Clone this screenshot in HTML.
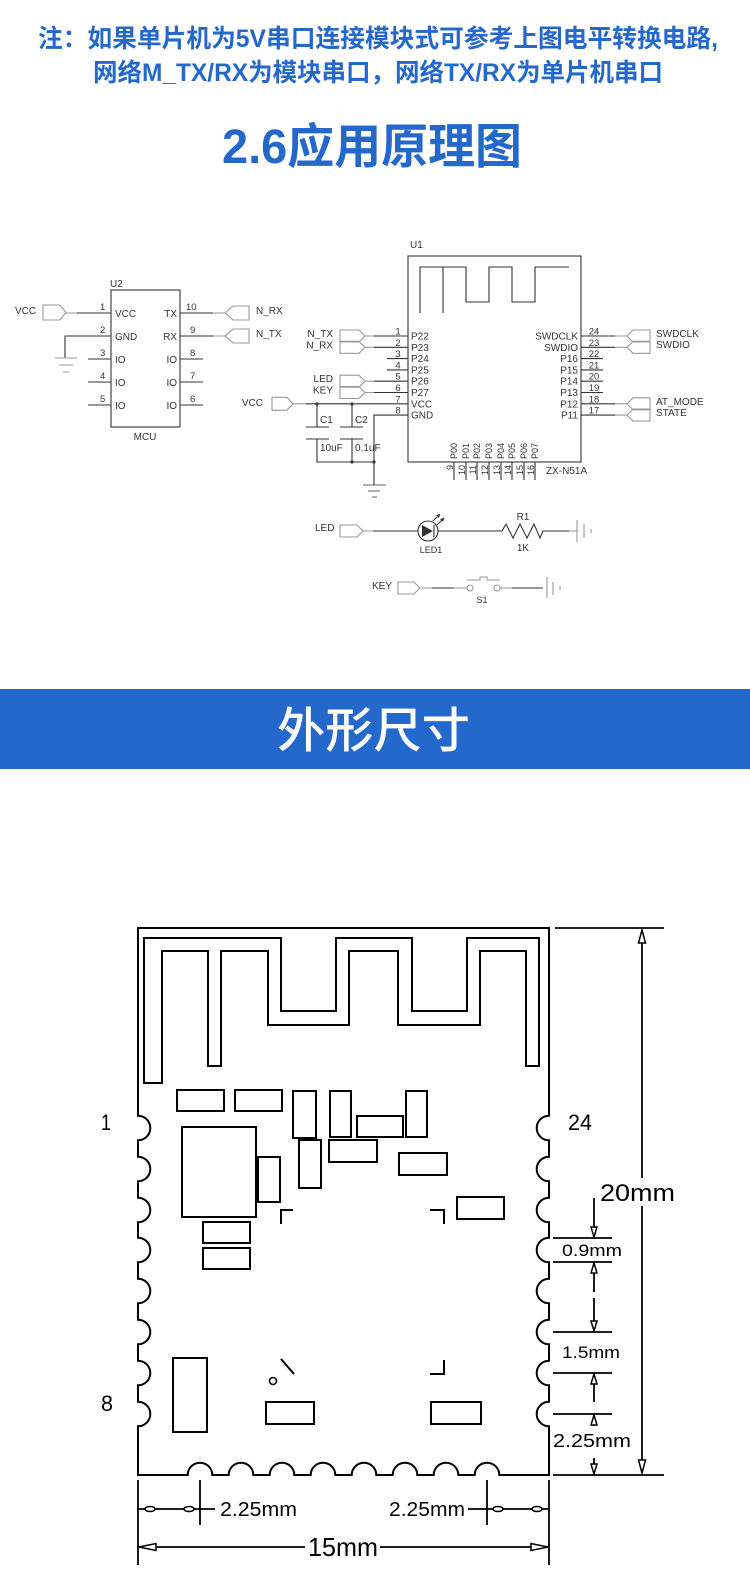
<!DOCTYPE html>
<html><head><meta charset="utf-8">
<style>
html,body{margin:0;padding:0;background:#fff;width:750px;height:1578px;overflow:hidden}
svg{display:block}
</style></head>
<body>
<svg width="750" height="1578" viewBox="0 0 750 1578" xmlns="http://www.w3.org/2000/svg" font-family="'Liberation Sans','Noto Sans CJK SC',sans-serif">
<rect width="750" height="1578" fill="#fff"/>

<!-- Top note -->
<text x="38" y="47" font-size="25" font-weight="bold" fill="#2468cc" textLength="680" lengthAdjust="spacingAndGlyphs">注：如果单片机为5V串口连接模块式可参考上图电平转换电路,</text>
<text x="93" y="81" font-size="25" font-weight="bold" fill="#2468cc" textLength="570" lengthAdjust="spacingAndGlyphs">网络M_TX/RX为模块串口，网络TX/RX为单片机串口</text>
<text x="222" y="163" font-size="48" font-weight="bold" fill="#2468cc" textLength="300" lengthAdjust="spacingAndGlyphs">2.6应用原理图</text>

<!-- ============ Schematic ============ -->
<g fill="none" stroke="#333" stroke-width="1.1">
  <!-- U2 -->
  <rect x="111" y="290" width="69" height="137"/>
  <path d="M77,313H111 M111,336H65V358 M88,359H111 M88,382H111 M88,405H111 M180,313H213 M180,336H213 M180,359H203 M180,382H203 M180,405H203"/>
  <!-- U1 -->
  <rect x="408" y="256" width="173" height="206"/>
  <path d="M420,313V267H466V302H489V267H512V302H535V267H569 M443,267V313"/>
  <path d="M374,336H408 M374,347.3H408 M387,358.6H408 M387,369.9H408 M374,381.2H408 M374,392.5H408 M306,403.8H408 M408,415.1H374V485"/>
  <path d="M581,336H615 M581,347.3H615 M581,358.6H603 M581,369.9H603 M581,381.2H603 M581,392.5H603 M581,403.8H615 M581,415.1H615"/>
  <!-- bottom pins -->
  <path d="M454,462V480 M466,462V480 M477,462V480 M489,462V480 M501,462V480 M512,462V480 M524,462V480 M535,462V480"/>
  <!-- caps -->
  <path d="M317,404V427 M306,427H329 M306,439H329 M317,439V462H374 M352,404V427 M340,427H363 M340,439H363 M352,439V462"/>
  <path d="M363,485H386 M368,491H380 M372,497H377" stroke="#666"/>
  <!-- LED row -->
  <path d="M373,531H418 M438,531H502 M502,531L506,524L513,538L520,524L527,538L534,524L540,538L543,531H569"/>
  <circle cx="428" cy="531" r="10"/>
  <path d="M434,525V537"/>
  <path d="M433,521L440,514 M437,525L444,518" stroke-width="1"/>
  <!-- KEY row -->
  <path d="M432,588H454 M512,588H543"/>
</g>
<polygon points="422,525 422,537 433,531" fill="#333"/>
<polygon points="440,514 436,515 439,518" fill="#333"/>
<polygon points="444,518 440,519 443,522" fill="#333"/>
<g fill="#333"><circle cx="317" cy="404" r="1.6"/><circle cx="352" cy="404" r="1.6"/><circle cx="352" cy="462" r="1.6"/><circle cx="374" cy="462" r="1.6"/></g>

<!-- grey connectors -->
<g fill="none" stroke="#999" stroke-width="1.1">
  <path d="M66,313H77 M213,313H225 M213,336H225 M55,358H77 M59,365H73 M63,372H69"/>
  <polygon points="43,305 60,305 66,312.5 60,320 43,320"/>
  <polygon points="225,313 233,306 249,306 249,320 233,320"/>
  <polygon points="225,336 233,329 249,329 249,343 233,343"/>
  <path d="M365,336H374 M365,347.3H374 M365,381.2H374 M365,392.5H374 M293,403.8H306"/>
  <polygon points="340,330 359,330 365,336 359,342 340,342"/>
  <polygon points="340,341.3 359,341.3 365,347.3 359,353.3 340,353.3"/>
  <polygon points="340,375.2 359,375.2 365,381.2 359,387.2 340,387.2"/>
  <polygon points="340,386.5 359,386.5 365,392.5 359,398.5 340,398.5"/>
  <polygon points="272,397.3 287,397.3 293,403.8 287,410.3 272,410.3"/>
  <path d="M615,336H627 M615,347.3H627 M615,403.8H627 M615,415.1H627"/>
  <polygon points="627,336 633,330 650,330 650,342 633,342"/>
  <polygon points="627,347.3 633,341.3 650,341.3 650,353.3 633,353.3"/>
  <polygon points="627,403.8 633,397.8 650,397.8 650,409.8 633,409.8"/>
  <polygon points="627,415.1 633,409.1 650,409.1 650,421.1 633,421.1"/>
  <polygon points="340,525 357,525 363,531 357,537 340,537"/>
  <path d="M363,531H373 M569,531H577 M577,520V542 M584,524V538 M591,529V533"/>
  <polygon points="398,582 414,582 420,588 414,594 398,594"/>
  <path d="M420,588H432 M454,588H467 M500,588H512 M467,580H480V577H487V580H500"/>
  <circle cx="470" cy="588" r="3"/><circle cx="497" cy="588" r="3"/>
  <path d="M547,577V598 M553,582V595 M560,586V590"/>
</g>

<!-- schematic texts -->
<g font-size="10" fill="#333">
  <text x="110" y="287">U2</text>
  <text x="15" y="314">VCC</text>
  <text x="100" y="310" font-size="9.5">1</text><text x="100" y="333" font-size="9.5">2</text><text x="100" y="356" font-size="9.5">3</text><text x="100" y="379" font-size="9.5">4</text><text x="100" y="402" font-size="9.5">5</text>
  <text x="186" y="310" font-size="9.5">10</text><text x="190" y="333" font-size="9.5">9</text><text x="190" y="356" font-size="9.5">8</text><text x="190" y="379" font-size="9.5">7</text><text x="190" y="402" font-size="9.5">6</text>
  <text x="115" y="317">VCC</text><text x="115" y="340">GND</text><text x="115" y="363">IO</text><text x="115" y="386">IO</text><text x="115" y="409">IO</text>
  <g text-anchor="end"><text x="177" y="317">TX</text><text x="177" y="340">RX</text><text x="177" y="363">IO</text><text x="177" y="386">IO</text><text x="177" y="409">IO</text></g>
  <text x="256" y="314">N_RX</text><text x="256" y="337">N_TX</text>
  <text x="145" y="440" text-anchor="middle">MCU</text>

  <text x="410" y="248">U1</text>
  <g text-anchor="end">
    <text x="333" y="337">N_TX</text><text x="333" y="348.5">N_RX</text>
    <text x="333" y="382">LED</text><text x="333" y="393.5">KEY</text>
    <text x="263" y="406">VCC</text>
  </g>
  <g text-anchor="middle" font-size="9.5">
    <text x="398" y="334.5">1</text><text x="398" y="345.8">2</text><text x="398" y="357.1">3</text><text x="398" y="368.4">4</text><text x="398" y="379.7">5</text><text x="398" y="391">6</text><text x="398" y="402.3">7</text><text x="398" y="413.6">8</text>
    <text x="594" y="334.5">24</text><text x="594" y="345.8">23</text><text x="594" y="357.1">22</text><text x="594" y="368.4">21</text><text x="594" y="379.7">20</text><text x="594" y="391">19</text><text x="594" y="402.3">18</text><text x="594" y="413.6">17</text>
  </g>
  <text x="411" y="339.5">P22</text><text x="411" y="350.8">P23</text><text x="411" y="362.1">P24</text><text x="411" y="373.4">P25</text><text x="411" y="384.7">P26</text><text x="411" y="396">P27</text><text x="411" y="407.3">VCC</text><text x="411" y="418.6">GND</text>
  <g text-anchor="end">
    <text x="578" y="339.5">SWDCLK</text><text x="578" y="350.8">SWDIO</text><text x="578" y="362.1">P16</text><text x="578" y="373.4">P15</text><text x="578" y="384.7">P14</text><text x="578" y="396">P13</text><text x="578" y="407.3">P12</text><text x="578" y="418.6">P11</text>
  </g>
  <text x="656" y="337">SWDCLK</text><text x="656" y="348">SWDIO</text><text x="656" y="405">AT_MODE</text><text x="656" y="416">STATE</text>
  <text x="320" y="423">C1</text><text x="355" y="423">C2</text>
  <text x="320" y="451">10uF</text><text x="355" y="451">0.1uF</text>
  <text x="546" y="474">ZX-N51A</text>
  <g font-size="9">
    <text transform="translate(457,459) rotate(-90)">P00</text>
    <text transform="translate(469,459) rotate(-90)">P01</text>
    <text transform="translate(480,459) rotate(-90)">P02</text>
    <text transform="translate(492,459) rotate(-90)">P03</text>
    <text transform="translate(504,459) rotate(-90)">P04</text>
    <text transform="translate(515,459) rotate(-90)">P05</text>
    <text transform="translate(527,459) rotate(-90)">P06</text>
    <text transform="translate(538,459) rotate(-90)">P07</text>
    <g text-anchor="end">
    <text transform="translate(453,465) rotate(-90)">9</text>
    <text transform="translate(465,465) rotate(-90)">10</text>
    <text transform="translate(476,465) rotate(-90)">11</text>
    <text transform="translate(488,465) rotate(-90)">12</text>
    <text transform="translate(500,465) rotate(-90)">13</text>
    <text transform="translate(511,465) rotate(-90)">14</text>
    <text transform="translate(523,465) rotate(-90)">15</text>
    <text transform="translate(534,465) rotate(-90)">16</text>
    </g>
  </g>
  <text x="315" y="531">LED</text>
  <text x="523" y="520" text-anchor="middle">R1</text>
  <text x="523" y="551" text-anchor="middle">1K</text>
  <text x="431" y="553" text-anchor="middle" font-size="9">LED1</text>
  <text x="372" y="589">KEY</text>
  <text x="482" y="603" text-anchor="middle" font-size="9">S1</text>
</g>

<!-- ============ Banner ============ -->
<rect x="0" y="689" width="750" height="80" fill="#2468cc"/>
<text x="277" y="747" font-size="48" font-weight="500" fill="#fff" textLength="193" lengthAdjust="spacingAndGlyphs">外形尺寸</text>

<!-- ============ Module drawing ============ -->
<g fill="none" stroke="#000" stroke-width="2" stroke-linejoin="miter">
  <path d="M138,928 H549 V1115.7 A12.3,12.3 0 0 0 549,1140.3 V1156.7 A12.3,12.3 0 0 0 549,1181.3 V1197.7 A12.3,12.3 0 0 0 549,1222.3 V1237.7 A12.3,12.3 0 0 0 549,1262.3 V1278.7 A12.3,12.3 0 0 0 549,1303.3 V1319.7 A12.3,12.3 0 0 0 549,1344.3 V1360.7 A12.3,12.3 0 0 0 549,1385.3 V1401.7 A12.3,12.3 0 0 0 549,1426.3 V1475
  H499.3 A12.3,12.3 0 0 0 474.7,1475 H458.3 A12.3,12.3 0 0 0 433.7,1475 H417.3 A12.3,12.3 0 0 0 392.7,1475 H376.3 A12.3,12.3 0 0 0 351.7,1475 H335.3 A12.3,12.3 0 0 0 310.7,1475 H294.3 A12.3,12.3 0 0 0 269.7,1475 H253.3 A12.3,12.3 0 0 0 228.7,1475 H212.3 A12.3,12.3 0 0 0 187.7,1475 H138
  V1426.3 A12.3,12.3 0 0 0 138,1401.7 V1385.3 A12.3,12.3 0 0 0 138,1360.7 V1344.3 A12.3,12.3 0 0 0 138,1319.7 V1303.3 A12.3,12.3 0 0 0 138,1278.7 V1262.3 A12.3,12.3 0 0 0 138,1237.7 V1222.3 A12.3,12.3 0 0 0 138,1197.7 V1181.3 A12.3,12.3 0 0 0 138,1156.7 V1140.3 A12.3,12.3 0 0 0 138,1115.7 Z"/>
  <!-- antenna -->
  <path d="M144,1083 V938 H281 V1011 H336 V938 H412 V1011 H467 V938 H539 V1066 H526 V951 H480 V1025 H398 V951 H349 V1025 H268 V951 H221 V1066 H208 V951 H162 V1083 Z"/>
  <!-- components -->
  <rect x="177" y="1090" width="47" height="21"/>
  <rect x="235" y="1090" width="47" height="21"/>
  <rect x="293" y="1091" width="23" height="47"/>
  <rect x="330" y="1091" width="21" height="46"/>
  <rect x="357" y="1116" width="46" height="21"/>
  <rect x="406" y="1091" width="21" height="46"/>
  <rect x="182" y="1127" width="74" height="90"/>
  <rect x="258" y="1157" width="22" height="45"/>
  <rect x="299" y="1140" width="22" height="48"/>
  <rect x="329" y="1140" width="48" height="22"/>
  <rect x="399" y="1153" width="48" height="22"/>
  <rect x="457" y="1197" width="47" height="22"/>
  <rect x="203" y="1222" width="47" height="21"/>
  <rect x="203" y="1248" width="47" height="21"/>
  <rect x="173" y="1358" width="34" height="74"/>
  <rect x="266" y="1402" width="48" height="22"/>
  <rect x="431" y="1402" width="50" height="22"/>
  <path d="M281,1224 V1210 H293 M430,1210 H444 V1224 M444,1360 V1374 H430 M281,1359 L294,1374"/>
  <circle cx="273" cy="1381" r="3.5" stroke-width="1.6"/>
</g>

<!-- dimensions -->
<g fill="none" stroke="#000" stroke-width="1.8">
  <path d="M555,928H664 M553,1475H664 M642,932V1178 M642,1206V1471"/>
  <path d="M553,1238H612 M553,1262H612 M553,1332H612 M553,1373H612 M553,1414H612"/>
  <path d="M594,1198V1232 M594,1268V1292 M594,1298V1326 M594,1379V1402 M594,1420V1426 M594,1458V1469"/>
  <path d="M138,1480V1565 M549,1480V1565 M200,1480V1525 M487,1480V1525"/>
  <path d="M139,1509H215 M468,1509H548 M139,1547H305 M380,1547H548"/>
</g>
<g fill="#fff" stroke="#000" stroke-width="1.5">
  <polygon points="642,930 638.5,943 645.5,943"/>
  <polygon points="642,1473 638.5,1460 645.5,1460"/>
  <polygon points="594,1237 591,1227 597,1227"/>
  <polygon points="594,1263 591,1273 597,1273"/>
  <polygon points="594,1331 591,1321 597,1321"/>
  <polygon points="594,1374 591,1384 597,1384"/>
  <polygon points="594,1415 591,1425 597,1425"/>
  <polygon points="594,1474 591,1464 597,1464"/>
  <ellipse cx="150" cy="1509" rx="5" ry="2.5"/>
  <ellipse cx="189" cy="1509" rx="5" ry="2.5"/>
  <ellipse cx="498" cy="1509" rx="5" ry="2.5"/>
  <ellipse cx="537" cy="1509" rx="5" ry="2.5"/>
  <polygon points="139,1547 156,1543.5 156,1550.5"/>
  <polygon points="548,1547 531,1543.5 531,1550.5"/>
</g>

<g fill="#000" font-family="'Liberation Sans','DejaVu Sans',sans-serif">
  <text x="101" y="1130" font-size="22" textLength="10" lengthAdjust="spacingAndGlyphs">1</text>
  <text x="101" y="1411" font-size="22" textLength="12" lengthAdjust="spacingAndGlyphs">8</text>
  <text x="568" y="1130" font-size="22" textLength="24" lengthAdjust="spacingAndGlyphs">24</text>
  <text x="600" y="1201" font-size="24" textLength="75" lengthAdjust="spacingAndGlyphs">20mm</text>
  <text x="562" y="1256" font-size="17" textLength="60" lengthAdjust="spacingAndGlyphs">0.9mm</text>
  <text x="562" y="1358" font-size="17" textLength="58" lengthAdjust="spacingAndGlyphs">1.5mm</text>
  <text x="553" y="1447" font-size="18" textLength="78" lengthAdjust="spacingAndGlyphs">2.25mm</text>
  <text x="220" y="1516" font-size="20" textLength="77" lengthAdjust="spacingAndGlyphs">2.25mm</text>
  <text x="389" y="1516" font-size="20" textLength="76" lengthAdjust="spacingAndGlyphs">2.25mm</text>
  <text x="308" y="1556" font-size="26" textLength="70" lengthAdjust="spacingAndGlyphs">15mm</text>
</g>
</svg>
</body></html>
